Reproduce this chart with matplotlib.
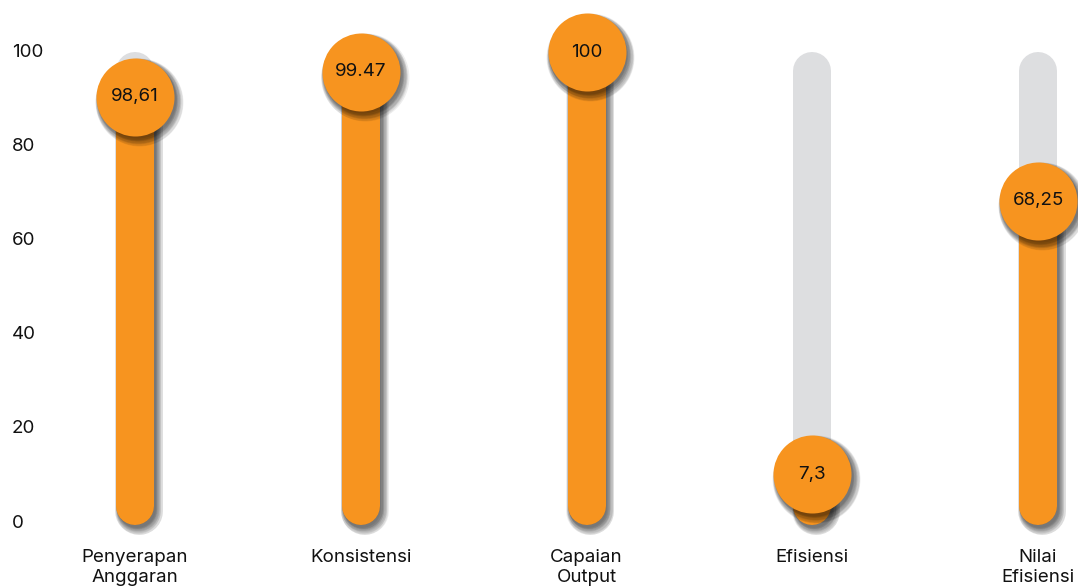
import matplotlib
matplotlib.use('Agg')
import matplotlib.pyplot as plt
import matplotlib.transforms as mtransforms
import numpy as np

### chart data
categories = ['Penyerapan\nAnggaran', 'Konsistensi', 'Capaian\nOutput', 'Efisiensi', 'Nilai\nEfisiensi']
value_labels = ['98,61', '99.47', '100', '7,3', '68,25']
values = [90.5, 95.8, 100, 10.4, 68.4]   # where the circles sit on the 0-100 scale
yticks = [0, 20, 40, 60, 80, 100]

orange = '#F7941F'
track = '#DDDEE0'
plt.rcParams['font.family'] = ['Inter', 'DejaVu Sans']

W, H = 1078, 588
fig = plt.figure(figsize=(W / 100, H / 100), dpi=100)
# axes: y 0 -> pixel 523, 100 -> pixel 52; x category 0 -> pixel 135, step 225.75 px
ax = fig.add_axes([0, (H - 523) / H, 1, 471 / H])
step = 225.75
ax.set_xlim(-135 / step, (W - 135) / step)
ax.set_ylim(0, 100)
ax.axis('off')

px = 100 / 471.0          # data units per pixel (y)
lw_px = 38                # bar width in pixels
lw = lw_px * 0.72         # in points
cap = lw_px / 2 * px      # round cap overhang in data units
lo = -2 * px + cap        # bottom end so the cap reaches ~pixel 525
hi = 100 - cap

x = np.arange(len(categories))


def shadow_layers(n=10):
    ### fake blurred drop shadow: many offset, widening, faint copies
    out = []
    for k in range(n):
        out.append((1.5 + 0.25 * k, -2.5 - 0.3 * k, 0.07, k * 1.1))
    return out


for i in x:
    # grey track
    ax.plot([i, i], [lo, hi], color=track, lw=lw, solid_capstyle='round', zorder=1, clip_on=False)
    # orange bar + shadow
    top = max(values[i], lo)
    for dx, dy, a, grow in shadow_layers():
        tr = mtransforms.offset_copy(ax.transData, fig=fig, x=dx, y=dy, units='dots')
        ax.plot([i, i], [lo, top], color='black', alpha=a, lw=lw + grow * 0.72,
                solid_capstyle='round', transform=tr, zorder=2, clip_on=False)
    ax.plot([i, i], [lo, top], color=orange, lw=lw, solid_capstyle='round', zorder=3, clip_on=False)

# circles with value labels
ms = 78 * 0.72
for i in x:
    for dx, dy, a, grow in shadow_layers():
        tr = mtransforms.offset_copy(ax.transData, fig=fig, x=dx, y=dy, units='dots')
        ax.plot(i, values[i], 'o', ms=ms + grow * 0.72, color='black', alpha=a,
                mew=0, transform=tr, zorder=4, clip_on=False)
    ax.plot(i, values[i], 'o', ms=ms, color=orange, mew=0, zorder=5, clip_on=False)
    ax.text(i, values[i], value_labels[i], ha='center', va='center',
            fontsize=13.5, color='#111111', zorder=6)

# y tick labels
ytr = mtransforms.blended_transform_factory(fig.transFigure, ax.transData)
for t in yticks:
    ax.text(12 / W, t, str(t), transform=ytr, ha='left', va='center',
            fontsize=13.5, color='#111111')

# category labels
xtr = mtransforms.blended_transform_factory(ax.transData, fig.transFigure)
for i in x:
    ax.text(i, (H - 549) / H, categories[i], transform=xtr, ha='center', va='top',
            fontsize=13.5, color='#111111', linespacing=1.22)

fig.savefig('out.png', dpi=100)
